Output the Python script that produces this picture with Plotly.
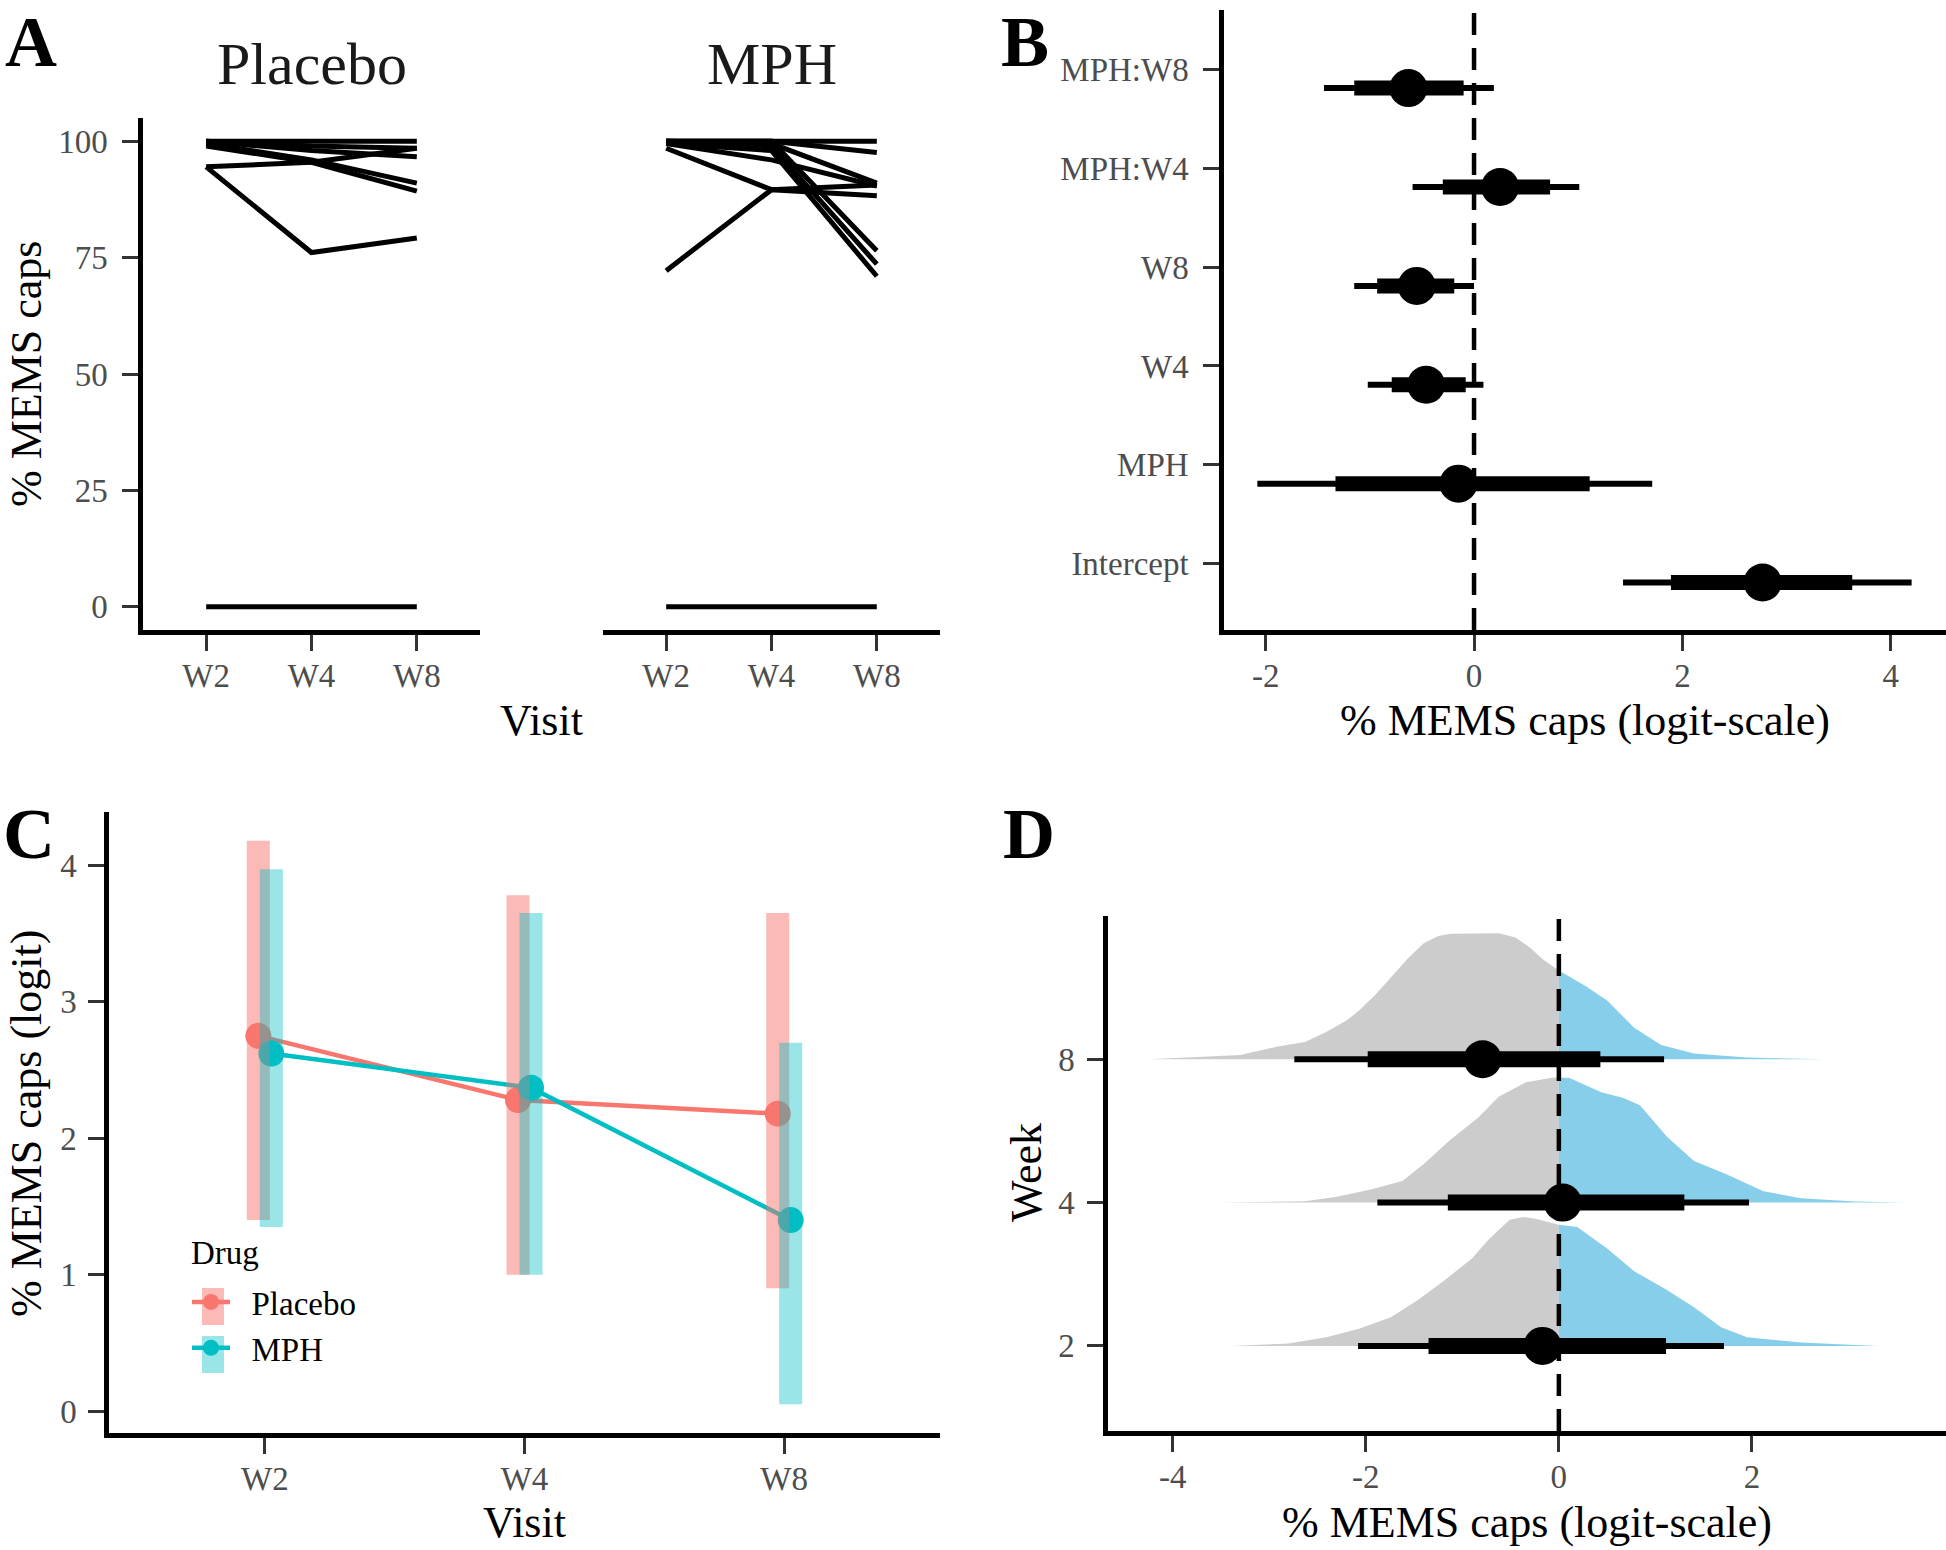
import plotly.graph_objects as go

W, H = 1946, 1550
SERIF = "Liberation Serif, Times New Roman, serif"
GREY_TXT = "#4D4D4D"

# ---------------- data ----------------
visits = ["W2", "W4", "W8"]

# Panel A: individual % MEMS caps per visit
placebo_subjects = [
    [100, 100, 100],
    [100, 99, 98.5],
    [99.5, 96, 91],
    [99, 95.5, 89.3],
    [94.5, 76.1, 79.2],
    [94.5, 95.5, 98.5],
    [100, 98, 96.7],
    [0, 0, 0],
]
mph_subjects = [
    [100, 100, 100],
    [100, 100, 97.6],
    [99.5, 96, 90.4],
    [98.5, 89.6, 88.3],
    [72.2, 89.6, 90.6],
    [100, 100, 76.5],
    [100, 99, 73.6],
    [99.5, 98, 71],
    [100, 99.5, 91],
    [0, 0, 0],
]
facet_names = ["Placebo", "MPH"]

# Panel B: model coefficients (bottom to top)
terms = ["Intercept", "MPH", "W4", "W8", "MPH:W4", "MPH:W8"]
term_est = [2.77, -0.15, -0.46, -0.55, 0.25, -0.63]
term_lo95 = [1.43, -2.08, -1.02, -1.15, -0.59, -1.44]
term_hi95 = [4.20, 1.71, 0.09, 0.00, 1.01, 0.19]
term_lo66 = [1.89, -1.33, -0.79, -0.93, -0.30, -1.15]
term_hi66 = [3.63, 1.11, -0.08, -0.19, 0.73, -0.10]
b_ticks = [-2, 0, 2, 4]

# Panel C: predicted logit by visit and drug
drugs = ["Placebo", "MPH"]
placebo_est = [2.75, 2.28, 2.18]
placebo_lo = [1.40, 1.00, 0.90]
placebo_hi = [4.18, 3.78, 3.65]
mph_est = [2.62, 2.37, 1.40]
mph_lo = [1.35, 1.00, 0.05]
mph_hi = [3.97, 3.65, 2.70]

# Panel D: MPH effect by week (posterior densities + intervals)
weeks = ["2", "4", "8"]
week_est = [-0.17, 0.04, -0.79]
week_lo95 = [-2.08, -1.88, -2.74]
week_hi95 = [1.71, 1.97, 1.09]
week_lo66 = [-1.35, -1.15, -1.98]
week_hi66 = [1.11, 1.30, 0.43]
d_ticks = [-4, -2, 0, 2]

dens_x_w2 = [-3.39, -2.80, -2.41, -2.07, -1.74, -1.46, -1.18, -0.90, -0.73, -0.51, -0.37,
             -0.23, 0.0, 0.19, 0.50, 0.78, 1.12, 1.40, 1.68, 1.95, 2.51, 3.30]
dens_h_w2 = [0.0, 0.016, 0.06, 0.12, 0.20, 0.32, 0.46, 0.61, 0.74, 0.88, 0.90,
             0.885, 0.845, 0.83, 0.68, 0.52, 0.39, 0.27, 0.13, 0.06, 0.023, 0.0]
dens_x_w4 = [-3.53, -2.63, -2.30, -1.96, -1.62, -1.40, -1.12, -0.84, -0.62, -0.34, -0.06,
             0.0, 0.11, 0.44, 0.67, 0.84, 1.12, 1.40, 1.73, 2.12, 2.51, 3.07, 3.60]
dens_h_w4 = [0.0, 0.01, 0.04, 0.09, 0.15, 0.27, 0.44, 0.59, 0.74, 0.84, 0.873,
             0.873, 0.87, 0.77, 0.73, 0.68, 0.46, 0.29, 0.20, 0.08, 0.03, 0.007, 0.0]
dens_x_w8 = [-4.25, -3.30, -2.91, -2.63, -2.41, -2.20, -2.07, -1.90, -1.74, -1.57, -1.40,
             -1.25, -1.12, -0.62, -0.45, -0.30, -0.17, 0.0, 0.28, 0.50, 0.78, 1.06, 1.40,
             1.95, 2.74]
dens_h_w8 = [0.0, 0.03, 0.09, 0.12, 0.19, 0.27, 0.34, 0.45, 0.57, 0.70, 0.81,
             0.86, 0.876, 0.88, 0.85, 0.78, 0.70, 0.62, 0.51, 0.41, 0.22, 0.10, 0.04,
             0.012, 0.0]
densities = [(dens_x_w2, dens_h_w2), (dens_x_w4, dens_h_w4), (dens_x_w8, dens_h_w8)]

# ---------------- style ----------------
PLACEBO_COL = "#F8766D"
MPH_COL = "#00BFC4"
PLACEBO_BAR = "rgba(248,118,109,0.5)"
MPH_BAR = "rgba(0,191,196,0.4)"
SLAB_GREY = "#CCCCCC"
SLAB_BLUE = "#87CEEB"
DODGE = 0.025
B_OFFSET = 0.19
NBSP = "\u00a0"


def fx(px):
    return px / W


def fy(py):
    return 1 - py / H


def axis_style(standoff=-3, **kw):
    d = dict(
        showline=True, linecolor="black", linewidth=4.5,
        ticks="outside", ticklen=16, tickwidth=2.5, tickcolor="#333333",
        showgrid=False, zeroline=False, ticklabelstandoff=standoff,
        tickfont=dict(family=SERIF, size=33, color=GREY_TXT),
        fixedrange=True,
    )
    d.update(kw)
    return d


fig = go.Figure()

# ---------------- Panel A ----------------
for subj in placebo_subjects:
    fig.add_trace(go.Scatter(x=visits, y=subj, mode="lines",
                             line=dict(color="black", width=5),
                             xaxis="x", yaxis="y", showlegend=False, hoverinfo="skip"))
for subj in mph_subjects:
    fig.add_trace(go.Scatter(x=visits, y=subj, mode="lines",
                             line=dict(color="black", width=5),
                             xaxis="x2", yaxis="y2", showlegend=False, hoverinfo="skip"))

# ---------------- Panel B ----------------
b_pos = [i + 1 - B_OFFSET for i in range(len(terms))]
fig.add_trace(go.Scatter(
    x=term_est, y=b_pos, mode="markers", marker=dict(size=1, color="rgba(0,0,0,0)"),
    error_x=dict(type="data", symmetric=False,
                 array=[h - e for h, e in zip(term_hi95, term_est)],
                 arrayminus=[e - l for e, l in zip(term_est, term_lo95)],
                 thickness=6, width=0, color="black"),
    xaxis="x3", yaxis="y3", showlegend=False, hoverinfo="skip"))
fig.add_trace(go.Scatter(
    x=term_est, y=b_pos, mode="markers", marker=dict(size=1, color="rgba(0,0,0,0)"),
    error_x=dict(type="data", symmetric=False,
                 array=[h - e for h, e in zip(term_hi66, term_est)],
                 arrayminus=[e - l for e, l in zip(term_est, term_lo66)],
                 thickness=15, width=0, color="black"),
    xaxis="x3", yaxis="y3", showlegend=False, hoverinfo="skip"))
fig.add_trace(go.Scatter(
    x=term_est, y=b_pos, mode="markers", marker=dict(size=38, color="black"),
    xaxis="x3", yaxis="y3", showlegend=False))

# ---------------- Panel C ----------------
xi = list(range(len(visits)))
groups = [
    (drugs[0], placebo_est, placebo_lo, placebo_hi, PLACEBO_COL, PLACEBO_BAR, -DODGE),
    (drugs[1], mph_est, mph_lo, mph_hi, MPH_COL, MPH_BAR, DODGE),
]
for name, est, lo, hi, col, barcol, dg in groups:
    fig.add_trace(go.Scatter(
        x=[i + dg for i in xi], y=est, mode="lines+markers", name=NBSP * 2 + name,
        line=dict(color=col, width=4.5), marker=dict(size=26, color=col),
        xaxis="x4", yaxis="y4", showlegend=True, legendgroup=name))
for name, est, lo, hi, col, barcol, dg in groups:
    fig.add_trace(go.Scatter(
        x=[i + dg for i in xi], y=est, mode="markers",
        marker=dict(size=1, color="rgba(0,0,0,0)"),
        error_y=dict(type="data", symmetric=False,
                     array=[h - e for h, e in zip(hi, est)],
                     arrayminus=[e - l for e, l in zip(est, lo)],
                     thickness=23, width=0, color=barcol),
        xaxis="x4", yaxis="y4", showlegend=False, legendgroup=name, hoverinfo="skip"))

# ---------------- Panel D ----------------
for k, (dx, dh) in enumerate(densities):
    base = k + 1
    left = [(x, h) for x, h in zip(dx, dh) if x <= 0]
    right = [(x, h) for x, h in zip(dx, dh) if x >= 0]
    for part, colr in ((left, SLAB_GREY), (right, SLAB_BLUE)):
        px_ = [p[0] for p in part]
        py_ = [base + p[1] for p in part]
        px_ = px_ + [px_[-1], px_[0]]
        py_ = py_ + [base, base]
        fig.add_trace(go.Scatter(x=px_, y=py_, mode="lines", fill="toself",
                                 fillcolor=colr, line=dict(width=0, color=colr),
                                 xaxis="x5", yaxis="y5", showlegend=False, hoverinfo="skip"))
d_pos = [k + 1 for k in range(len(weeks))]
fig.add_trace(go.Scatter(
    x=week_est, y=d_pos, mode="markers", marker=dict(size=1, color="rgba(0,0,0,0)"),
    error_x=dict(type="data", symmetric=False,
                 array=[h - e for h, e in zip(week_hi95, week_est)],
                 arrayminus=[e - l for e, l in zip(week_est, week_lo95)],
                 thickness=6, width=0, color="black"),
    xaxis="x5", yaxis="y5", showlegend=False, hoverinfo="skip"))
fig.add_trace(go.Scatter(
    x=week_est, y=d_pos, mode="markers", marker=dict(size=1, color="rgba(0,0,0,0)"),
    error_x=dict(type="data", symmetric=False,
                 array=[h - e for h, e in zip(week_hi66, week_est)],
                 arrayminus=[e - l for e, l in zip(week_est, week_lo66)],
                 thickness=16, width=0, color="black"),
    xaxis="x5", yaxis="y5", showlegend=False, hoverinfo="skip"))
fig.add_trace(go.Scatter(
    x=week_est, y=d_pos, mode="markers", marker=dict(size=38, color="black"),
    xaxis="x5", yaxis="y5", showlegend=False))

# ---------------- layout ----------------
fig.update_layout(
    width=W, height=H, margin=dict(l=0, r=0, t=0, b=0),
    paper_bgcolor="white", plot_bgcolor="white",
    font=dict(family=SERIF, color="black"),
    xaxis=axis_style(domain=[fx(143), fx(480)], anchor="y", type="category",
                     range=[-0.6, 2.6]),
    yaxis=axis_style(standoff=8, domain=[fy(630), fy(118)], anchor="x", range=[-5, 105],
                     tickvals=[0, 25, 50, 75, 100]),
    xaxis2=axis_style(domain=[fx(603), fx(940)], anchor="y2", type="category",
                      range=[-0.6, 2.6]),
    yaxis2=dict(domain=[fy(630), fy(118)], anchor="x2", range=[-5, 105],
                visible=False, fixedrange=True),
    xaxis3=axis_style(domain=[fx(1224), fx(1946)], anchor="y3", range=[-2.40, 4.53],
                      tickvals=b_ticks, ticktext=[str(t) for t in b_ticks]),
    yaxis3=axis_style(standoff=8, domain=[fy(630), fy(10)], anchor="x3", range=[0.33, 6.6],
                      tickvals=[i + 1 for i in range(len(terms))], ticktext=terms),
    xaxis4=axis_style(domain=[fx(109), fx(940)], anchor="y4", range=[-0.6, 2.6],
                      tickvals=xi, ticktext=visits),
    yaxis4=axis_style(standoff=5, domain=[fy(1433), fy(812)], anchor="x4",
                      range=[-0.16, 4.39], tickvals=[0, 1, 2, 3, 4]),
    xaxis5=axis_style(domain=[fx(1108), fx(1946)], anchor="y5", range=[-4.67, 4.01],
                      tickvals=d_ticks, ticktext=[str(t) for t in d_ticks]),
    yaxis5=axis_style(standoff=6, domain=[fy(1431), fy(916)], anchor="x5",
                      range=[0.406, 4.0], tickvals=d_pos, ticktext=weeks),
    legend=dict(x=fx(187), y=fy(1274), xanchor="left", yanchor="top",
                bgcolor="rgba(0,0,0,0)", itemwidth=38, tracegroupgap=0,
                font=dict(family=SERIF, size=33, color="black")),
)

DASH = dict(color="black", width=4.5, dash="22px,13px")
shapes = [
    dict(type="line", xref="x3", yref="y3 domain", x0=0, x1=0, y0=0, y1=1,
         line=DASH, layer="above"),
    dict(type="line", xref="x5", yref="y5 domain", x0=0, x1=0, y0=0, y1=1,
         line=DASH, layer="above"),
    # translucent bars of the legend keys
    dict(type="rect", xref="paper", yref="paper", x0=fx(202), x1=fx(224),
         y0=fy(1325), y1=fy(1288), fillcolor=PLACEBO_BAR, line=dict(width=0), layer="above"),
    dict(type="rect", xref="paper", yref="paper", x0=fx(202), x1=fx(224),
         y0=fy(1373), y1=fy(1336), fillcolor=MPH_BAR, line=dict(width=0), layer="above"),
]
fig.update_layout(shapes=shapes)


def ann(text, x, y, size, color="black", angle=0, bold=False, xanchor="center"):
    return dict(text=text, x=fx(x), y=fy(y), xref="paper", yref="paper",
                xanchor=xanchor, yanchor="middle", showarrow=False, textangle=angle,
                font=dict(family=SERIF, size=size, color=color,
                          weight="bold" if bold else "normal"))


annotations = [
    ann("A", 31, 42, 72, bold=True),
    ann("B", 1025, 42, 72, bold=True),
    ann("C", 29, 834, 72, bold=True),
    ann("D", 1029, 834, 72, bold=True),
    ann(facet_names[0], 311.5, 64, 60, color="#1A1A1A"),
    ann(facet_names[1], 771.5, 64, 60, color="#1A1A1A"),
    ann("Visit", 541.5, 720, 44),
    ann("% MEMS caps", 26, 374, 44, angle=-90),
    ann("% MEMS caps (logit-scale)", 1585, 720, 44),
    ann("Visit", 524.5, 1522, 44),
    ann("% MEMS caps (logit)", 26, 1124, 44, angle=-90),
    ann("% MEMS caps (logit-scale)", 1527, 1522, 44),
    ann("Week", 1026, 1173, 44, angle=-90),
    ann("Drug", 189, 1253, 33, xanchor="left"),
]
fig.update_layout(annotations=annotations)

fig.write_html("out.html",
               config={"displayModeBar": False, "staticPlot": False},
               post_script="document.body.style.margin='0';document.body.style.padding='0';")
